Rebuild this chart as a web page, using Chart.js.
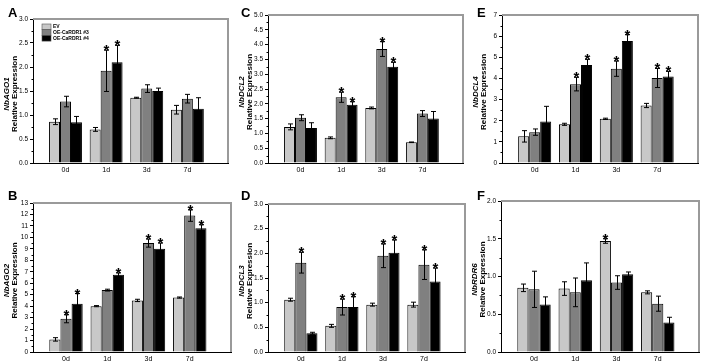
<!DOCTYPE html>
<html>
<head>
<meta charset="utf-8">
<script src="https://cdn.jsdelivr.net/npm/chart.js@4.4.0/dist/chart.umd.min.js"></script>
<style>
    html, body { margin: 0; padding: 0; background: #fff; }
    #wrap { position: relative; width: 708px; height: 363px; overflow: hidden; }
    .panel { position: absolute; }
</style>
</head>
<body>
<div id="wrap"></div>
<script>
// categories and series
const days = ['0d', '1d', '3d', '7d'];
const seriesNames = ['EV', 'OE-CaRDR1 #3', 'OE-CaRDR1 #4'];
const barColors = ['#c8c8c8', '#808080', '#000000'];

// A - NbAGO1
const ago1Mean = [[0.86, 0.70, 1.36, 1.11], [1.28, 1.92, 1.55, 1.34], [0.85, 2.10, 1.50, 1.13]];
const ago1Err  = [[0.06, 0.04, 0.01, 0.09], [0.11, 0.43, 0.08, 0.09], [0.12, 0.35, 0.06, 0.23]];
const ago1Star = [[0, 0, 0, 0], [0, 1, 0, 0], [0, 1, 0, 0]];

// B - NbAGO2
const ago2Mean = [[1.1, 4.0, 4.5, 4.75], [2.9, 5.4, 9.5, 11.9], [4.2, 6.75, 9.0, 10.8]];
const ago2Err  = [[0.15, 0.05, 0.1, 0.05], [0.35, 0.08, 0.35, 0.5], [0.9, 0.15, 0.5, 0.3]];
const ago2Star = [[0, 0, 0, 0], [1, 0, 1, 1], [1, 1, 1, 1]];

// C - NbDCL2
const dcl2Mean = [[1.22, 0.85, 1.86, 0.70], [1.53, 2.22, 3.85, 1.67], [1.18, 1.97, 3.25, 1.50]];
const dcl2Err  = [[0.10, 0.03, 0.03, 0.01], [0.10, 0.17, 0.25, 0.10], [0.18, 0.10, 0.15, 0.24]];
const dcl2Star = [[0, 0, 0, 0], [0, 1, 1, 0], [0, 1, 1, 0]];

// D - NbDCL3
const dcl3Mean = [[1.06, 0.53, 0.96, 0.96], [1.81, 0.91, 1.95, 1.77], [0.38, 0.91, 2.01, 1.43]];
const dcl3Err  = [[0.03, 0.03, 0.03, 0.05], [0.21, 0.16, 0.24, 0.30], [0.02, 0.21, 0.26, 0.27]];
const dcl3Star = [[0, 0, 0, 0], [1, 1, 1, 1], [0, 1, 1, 1]];

// E - NbDCL4
const dcl4Mean = [[1.26, 1.83, 2.09, 2.72], [1.46, 3.73, 4.46, 4.02], [1.96, 4.64, 5.77, 4.09]];
const dcl4Err  = [[0.27, 0.05, 0.03, 0.10], [0.15, 0.32, 0.36, 0.45], [0.72, 0.26, 0.30, 0.24]];
const dcl4Star = [[0, 0, 0, 0], [0, 1, 1, 1], [0, 1, 1, 1]];

// F - NbRDR6
const rdr6Mean = [[0.85, 0.84, 1.47, 0.79], [0.83, 0.79, 0.92, 0.64], [0.63, 0.95, 1.03, 0.39]];
const rdr6Err  = [[0.05, 0.09, 0.03, 0.02], [0.24, 0.19, 0.09, 0.10], [0.10, 0.23, 0.03, 0.07]];
const rdr6Star = [[0, 0, 1, 0], [0, 0, 0, 0], [0, 0, 0, 0]];

const panels = [
    { letter: 'A', gene: 'NbAGO1', mean: ago1Mean, err: ago1Err, star: ago1Star, yMax: 3, step: 0.5, minor: 0.25, dec: 1,
      box: [0, 0, 236, 181], area: [33, 19, 228, 163], legend: true },
    { letter: 'B', gene: 'NbAGO2', mean: ago2Mean, err: ago2Err, star: ago2Star, yMax: 13, step: 1, minor: 0.5, dec: 0,
      box: [0, 181, 236, 182], area: [33, 203, 231, 352] },
    { letter: 'C', gene: 'NbDCL2', mean: dcl2Mean, err: dcl2Err, star: dcl2Star, yMax: 5, step: 0.5, minor: 0.25, dec: 1,
      box: [236, 0, 236, 181], area: [268, 15, 463, 163] },
    { letter: 'D', gene: 'NbDCL3', mean: dcl3Mean, err: dcl3Err, star: dcl3Star, yMax: 3, step: 0.5, minor: 0.25, dec: 1,
      box: [236, 181, 236, 182], area: [268, 204, 465, 352] },
    { letter: 'E', gene: 'NbDCL4', mean: dcl4Mean, err: dcl4Err, star: dcl4Star, yMax: 7, step: 1, minor: 0.5, dec: 0,
      box: [472, 0, 236, 181], area: [502, 15, 698, 163] },
    { letter: 'F', gene: 'NbRDR6', mean: rdr6Mean, err: rdr6Err, star: rdr6Star, yMax: 2, step: 0.5, minor: 0.25, dec: 1,
      box: [472, 181, 236, 182], area: [501, 201, 699, 352] }
];

const FONT = '"Liberation Sans", Arial, sans-serif';
const Y_W = 20;
const X_H = 14;

// error bars, stars, frame, minor ticks, titles, legend
const panelDecor = {
    id: 'panelDecor',
    afterDatasetsDraw(chart) {
        const p = chart.options.plugins.panelDecor.panel;
        const ctx = chart.ctx;
        const y = chart.scales.y;
        ctx.save();
        ctx.strokeStyle = '#000';
        ctx.fillStyle = '#000';
        ctx.lineWidth = 1;
        chart.data.datasets.forEach((ds, si) => {
            const meta = chart.getDatasetMeta(si);
            meta.data.forEach((bar, i) => {
                const m = p.mean[si][i], e = p.err[si][i];
                const x = Math.round(bar.x) + 0.5;
                const yt = y.getPixelForValue(m + e);
                const yb = y.getPixelForValue(m - e);
                ctx.beginPath();
                ctx.moveTo(x, yt); ctx.lineTo(x, yb);
                ctx.moveTo(x - 2.5, yt); ctx.lineTo(x + 2.5, yt);
                ctx.moveTo(x - 2.5, yb); ctx.lineTo(x + 2.5, yb);
                ctx.stroke();
                if (p.star[si][i]) {
                    ctx.font = 'bold 15px ' + FONT;
                    ctx.textAlign = 'center';
                    ctx.textBaseline = 'alphabetic';
                    ctx.fillText('*', x, yt + 5);
                }
            });
        });
        ctx.restore();
    },
    afterDraw(chart) {
        const p = chart.options.plugins.panelDecor.panel;
        const ctx = chart.ctx;
        const a = chart.chartArea;
        const y = chart.scales.y;
        ctx.save();
        // gray top and right frame
        ctx.strokeStyle = '#9a9a9a';
        ctx.lineWidth = 2;
        ctx.beginPath();
        ctx.moveTo(a.left, a.top); ctx.lineTo(a.right, a.top); ctx.lineTo(a.right, a.bottom);
        ctx.stroke();
        // minor ticks
        ctx.strokeStyle = '#000';
        ctx.lineWidth = 1;
        ctx.beginPath();
        for (let v = p.minor; v < p.yMax; v += p.step) {
            const py = Math.round(y.getPixelForValue(v)) + 0.5;
            ctx.moveTo(a.left - 1.5, py); ctx.lineTo(a.left, py);
        }
        ctx.stroke();
        // y titles
        const cy = (a.top + a.bottom) / 2 + 3;
        ctx.fillStyle = '#000';
        ctx.translate(a.left - 24, cy);
        ctx.rotate(-Math.PI / 2);
        ctx.textAlign = 'center';
        ctx.font = 'italic bold 8px ' + FONT;
        ctx.fillText(p.gene, 0, 0);
        ctx.font = 'bold 8px ' + FONT;
        ctx.fillText('Relative Expression', 0, 7.5);
        ctx.restore();
        // panel letter
        ctx.save();
        ctx.fillStyle = '#000';
        ctx.font = 'bold 13px ' + FONT;
        ctx.textAlign = 'left';
        ctx.textBaseline = 'top';
        const deco = chart.options.plugins.panelDecor;
        ctx.fillText(p.letter, deco.letterX, deco.letterY);
        // legend
        if (p.legend) {
            const lx = a.left + 9, ly = a.top + 5, rh = 5.7;
            seriesNames.forEach((name, k) => {
                ctx.fillStyle = barColors[k];
                ctx.fillRect(lx, ly + k * rh, 9, rh);
                ctx.strokeStyle = '#555';
                ctx.lineWidth = 0.6;
                ctx.strokeRect(lx, ly + k * rh, 9, rh);
                ctx.fillStyle = '#000';
                ctx.font = 'bold 5px ' + FONT;
                ctx.textBaseline = 'middle';
                ctx.fillText(name, lx + 11, ly + k * rh + rh / 2);
            });
        }
        ctx.restore();
    }
};

const wrap = document.getElementById('wrap');

panels.forEach(p => {
    const [bx, by, bw, bh] = p.box;
    const [al, at, ar, ab] = p.area;
    const div = document.createElement('div');
    div.className = 'panel';
    div.style.left = bx + 'px';
    div.style.top = by + 'px';
    div.style.width = bw + 'px';
    div.style.height = bh + 'px';
    const canvas = document.createElement('canvas');
    canvas.width = bw;
    canvas.height = bh;
    div.appendChild(canvas);
    wrap.appendChild(div);

    const datasets = seriesNames.map((name, si) => ({
        label: name,
        data: p.mean[si].map((v, i) => ({ x: i, y: v })),
        backgroundColor: barColors[si],
        borderColor: '#000',
        borderWidth: 1,
        borderSkipped: 'bottom',
        barPercentage: 1.0,
        categoryPercentage: 0.81
    }));

    new Chart(canvas, {
        type: 'bar',
        data: { datasets },
        options: {
            responsive: false,
            maintainAspectRatio: false,
            animation: false,
            devicePixelRatio: 1,
            layout: {
                padding: {
                    left: al - bx - Y_W,
                    top: at - by,
                    right: bx + bw - ar,
                    bottom: by + bh - ab - X_H
                }
            },
            plugins: {
                legend: { display: false },
                tooltip: { enabled: false },
                panelDecor: {
                    panel: p,
                    letterX: (p.letter === 'A' || p.letter === 'B') ? 8 : 5,
                    letterY: (p.letter === 'A' || p.letter === 'C' || p.letter === 'E') ? 7 : 9
                }
            },
            scales: {
                x: {
                    type: 'linear',
                    offset: false,
                    min: -0.8,
                    max: 4.0,
                    afterBuildTicks: s => { s.ticks = days.map((d, i) => ({ value: i })); },
                    afterFit: s => { s.height = X_H; },
                    grid: { display: false, drawTicks: false, offset: false },
                    border: { display: true, color: '#000', width: 1 },
                    ticks: {
                        color: '#000',
                        padding: 3,
                        font: { family: FONT, size: 7 },
                        callback: v => days[v] ?? ''
                    }
                },
                y: {
                    min: 0,
                    max: p.yMax,
                    afterFit: s => { s.width = Y_W; },
                    grid: { drawOnChartArea: false, drawTicks: true, tickLength: 3, color: '#000' },
                    border: { display: true, color: '#000', width: 1 },
                    ticks: {
                        stepSize: p.step,
                        color: '#000',
                        padding: 2,
                        font: { family: FONT, size: 6.5 },
                        callback: v => v.toFixed(p.dec)
                    }
                }
            }
        },
        plugins: [panelDecor]
    });
});
</script>
</body>
</html>
